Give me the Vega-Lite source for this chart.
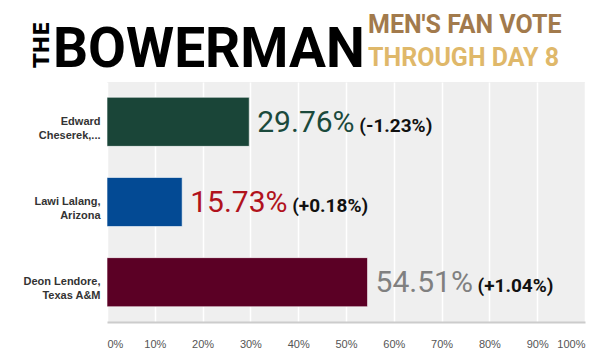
{
  "$schema": "https://vega.github.io/schema/vega-lite/v6.json",
  "background": "white",
  "padding": {"left": 22, "top": 13, "right": 14, "bottom": 5},
  "title": {"text": "THE", "orient": "top", "anchor": "start", "frame": "group", "angle": 270, "font": "DejaVu Sans", "fontWeight": "bold", "fontSize": 21, "color": "#000000", "dx": -105, "dy": -75},
  "vconcat": [
    {
      "title": {"text": "BOWERMAN", "orient": "top", "anchor": "start", "frame": "group", "font": "Roboto", "fontWeight": "bold", "fontSize": 55, "color": "#000000", "dx": -54, "dy": 70},
      "vconcat": [
        {
          "title": {"text": "MEN'S FAN VOTE", "subtitle": "THROUGH DAY 8", "orient": "top", "anchor": "start", "frame": "group", "font": "Roboto", "fontWeight": "bold", "fontSize": 25, "color": "#a27a4c", "subtitleFont": "Roboto", "subtitleFontWeight": "bold", "subtitleFontSize": 25, "subtitleColor": "#dfb86a", "subtitlePadding": 8, "dx": 261, "offset": 11},
          "width": 478,
          "height": 240,
          "data": {"values": [
            {"name": "Edward|Cheserek,...", "share": 0.2976, "change": -0.0123},
            {"name": "Lawi Lalang,|Arizona", "share": 0.1573, "change": 0.0018},
            {"name": "Deon Lendore,|Texas A&M", "share": 0.5451, "change": 0.0104}
          ]},
          "transform": [{"calculate": "'(' + replace(format(datum.change, '+.2%'), '\u2212', '-') + ')'", "as": "change_label"}],
          "encoding": {
            "y": {"field": "name", "type": "nominal", "sort": null,
              "scale": {"paddingInner": 0.3875, "paddingOuter": 0.19},
              "axis": {"title": null, "labelExpr": "split(datum.value, '|')", "labelFont": "Liberation Sans", "labelFontWeight": "bold", "labelFontSize": 11, "labelColor": "#333333", "labelPadding": 7, "labelLineHeight": 14, "ticks": false, "domain": false, "grid": false}},
            "x": {"field": "share", "type": "quantitative",
              "scale": {"domain": [0, 1]},
              "axis": {"title": null, "format": "%", "values": [0, 0.1, 0.2, 0.3, 0.4, 0.5, 0.6, 0.7, 0.8, 0.9, 1], "labelFlush": true, "labelFont": "Liberation Sans", "labelFontSize": 11, "labelColor": "#555555", "labelPadding": 16, "ticks": false, "domain": true, "domainColor": "#cccccc", "domainWidth": 2, "grid": true, "gridColor": "#ffffff", "gridWidth": 1.5}}
          },
          "layer": [
            {"mark": {"type": "bar", "stroke": "#ffffff", "strokeWidth": 1, "strokeOpacity": 0.6},
              "encoding": {"color": {"field": "name", "type": "nominal", "legend": null,
                "scale": {"domain": ["Edward|Cheserek,...", "Lawi Lalang,|Arizona", "Deon Lendore,|Texas A&M"], "range": ["#1a4538", "#034a94", "#5b0025"]}}}},
            {"mark": {"type": "text", "align": "left", "baseline": "alphabetic", "dx": 8, "dy": 10, "font": "Roboto", "fontSize": 30},
              "encoding": {"text": {"field": "share", "type": "quantitative", "format": ".2%"},
                "color": {"field": "name", "type": "nominal", "legend": null,
                  "scale": {"domain": ["Edward|Cheserek,...", "Lawi Lalang,|Arizona", "Deon Lendore,|Texas A&M"], "range": ["#1b4a3c", "#b1121c", "#808080"]}}}},
            {"mark": {"type": "text", "align": "left", "baseline": "alphabetic", "dx": 110, "dy": 10, "font": "Roboto", "fontWeight": "bold", "fontSize": 19, "color": "#111111"},
              "encoding": {"text": {"field": "change_label", "type": "nominal"}}}
          ],
          "resolve": {"scale": {"color": "independent"}}
        }
      ]
    }
  ],
  "config": {"view": {"fill": "#efefef", "stroke": null}}
}
